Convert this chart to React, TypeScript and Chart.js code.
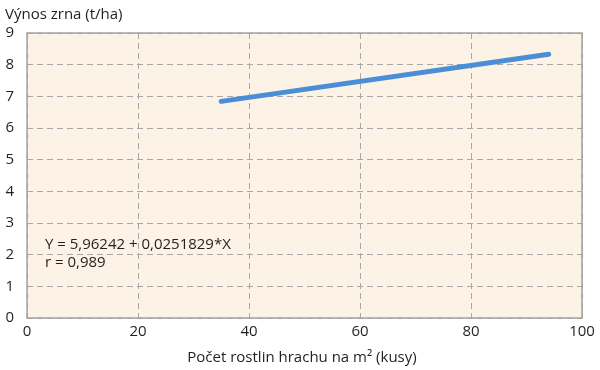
import React, { useEffect, useRef } from "react";
import { Chart, registerables } from "chart.js";

Chart.register(...registerables);

const lineX = [35, 94];
const lineY = [6.84, 8.33];
const xTicks = [0, 20, 40, 60, 80, 100];
const yTicks = [0, 1, 2, 3, 4, 5, 6, 7, 8, 9];
const yTitle = "Výnos zrna (t/ha)";
const xTitle = "Počet rostlin hrachu na m² (kusy)";
const equation = "Y = 5,96242 + 0,0251829*X";
const rText = "r = 0,989";

const FONT = "'Open Sans', 'Noto Sans', sans-serif";
const TEXT = "#231f20";
const SIZE = 15;

export default function App() {
  const ref = useRef<HTMLCanvasElement>(null);
  useEffect(() => {
    document.body.style.margin = "0";
    const bgPlugin = {
      id: "bg",
      beforeDraw(chart: any) {
        const { ctx, chartArea: a } = chart;
        ctx.save();
        ctx.fillStyle = "#fcf2e6";
        ctx.fillRect(a.left, a.top, a.right - a.left, a.bottom - a.top);
        ctx.restore();
      },
      afterDraw(chart: any) {
        const { ctx, chartArea: a } = chart;
        ctx.save();
        ctx.strokeStyle = "#a3a3a3";
        ctx.lineWidth = 1.5;
        ctx.strokeRect(a.left, a.top, a.right - a.left, a.bottom - a.top);
        ctx.fillStyle = TEXT;
        ctx.font = `${SIZE}px ${FONT}`;
        ctx.textBaseline = "alphabetic";
        ctx.textAlign = "left";
        ctx.fillText(yTitle, 5, 19);
        ctx.textAlign = "center";
        ctx.fillText(xTitle, 302, 362);
        const xs = chart.scales.x;
        const ys = chart.scales.y;
        ctx.textAlign = "left";
        ctx.fillText(equation, xs.getPixelForValue(3.24), ys.getPixelForValue(2.18));
        ctx.fillText(rText, xs.getPixelForValue(3.24), ys.getPixelForValue(1.61));
        ctx.restore();
      },
    };
    const chart = new Chart(ref.current!, {
      type: "scatter",
      data: {
        datasets: [
          {
            data: lineX.map((x, i) => ({ x, y: lineY[i] })),
            showLine: true,
            borderColor: "#4a8fd6",
            borderWidth: 5,
            pointRadius: 0,
            borderCapStyle: "round",
          },
        ],
      },
      options: {
        animation: false,
        responsive: false,
        layout: { padding: { top: 33, right: 18, left: 0, bottom: 0 } },
        plugins: { legend: { display: false }, tooltip: { enabled: false } },
        scales: {
          x: {
            type: "linear",
            min: 0,
            max: 100,
            afterBuildTicks: (s: any) => {
              s.ticks = xTicks.map((v) => ({ value: v }));
            },
            afterFit: (s: any) => {
              s.height = 52;
            },
            grid: { color: "#a8a8a8", lineWidth: 1, drawTicks: false },
            border: { display: false, dash: [6, 4] },
            ticks: { color: TEXT, font: { family: FONT, size: SIZE }, padding: 5, maxRotation: 0 },
          },
          y: {
            type: "linear",
            min: 0,
            max: 9,
            afterBuildTicks: (s: any) => {
              s.ticks = yTicks.map((v) => ({ value: v }));
            },
            afterFit: (s: any) => {
              s.width = 27;
            },
            grid: { color: "#a8a8a8", lineWidth: 1, drawTicks: false },
            border: { display: false, dash: [6, 4] },
            ticks: { color: TEXT, font: { family: FONT, size: SIZE }, padding: 13 },
          },
        },
      },
      plugins: [bgPlugin],
    } as any);
    return () => chart.destroy();
  }, []);
  return (
    <div style={{ position: "absolute", left: 0, top: 0, width: 600, height: 370 }}>
      <canvas ref={ref} width={600} height={370} style={{ width: 600, height: 370 }} />
    </div>
  );
}
